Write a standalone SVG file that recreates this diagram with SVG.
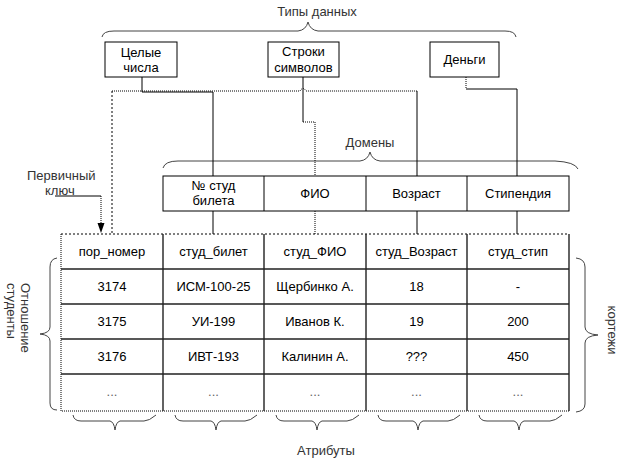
<svg xmlns="http://www.w3.org/2000/svg" width="624" height="463" viewBox="0 0 624 463">
<style>
text{font-family:"Liberation Sans",Arial,sans-serif;font-size:13px;fill:#000}
.c{text-anchor:middle}
.lbl{fill:#333}
.ell{fill:#666}
.box{fill:#fff;stroke:#000;stroke-width:1}
.ln{fill:none;stroke:#000;stroke-width:1}
.dt{fill:none;stroke:#000;stroke-width:1;stroke-dasharray:1 1}
.ds{fill:none;stroke:#000;stroke-width:1;stroke-dasharray:2 2}
.br{fill:none;stroke:#444;stroke-width:1}
.grid{fill:none;stroke:#222;stroke-width:1.4}
</style>
<rect width="624" height="463" fill="#fff"/>

<g id="braces">
<path class="br" d="M102,37 Q103,31 114,31 L298,31 Q306,30 308,22 Q310,30 318,31 L505,31 Q515,31 516,37"/>
<path class="br" d="M163,168 Q165,161 178,161 L360,161 Q368,160 370,152 Q372,160 380,161 L555,161 Q575,162 578,169"/>
<path class="br" d="M57,258 Q50,259 50,267 L50,327 Q50,333 40,334 Q50,335 50,341 L50,403 Q50,410 57,410"/>
<path class="br" d="M576,258 Q585,259 585,267 L585,327 Q585,334 598,335 Q585,336 585,343 L585,404 Q585,411 576,412"/>
<path class="br" d="M73,415 Q74,421 81,421 L110,421 Q114,422 115,430 Q116,422 120,421 L144,421 Q149,421 156,415"/>
<path class="br" d="M175,415 Q176,421 183,421 L211,421 Q215,422 216,430 Q217,422 221,421 L245,421 Q250,421 257,415"/>
<path class="br" d="M276,415 Q277,421 284,421 L312,421 Q316,422 317,430 Q318,422 322,421 L347,421 Q352,421 359,415"/>
<path class="br" d="M378,415 Q379,421 386,421 L413,421 Q417,422 418,430 Q419,422 423,421 L448,421 Q453,421 460,415"/>
<path class="br" d="M479,415 Q480,421 487,421 L514,421 Q518,422 519,430 Q520,422 524,421 L550,421 Q555,421 562,415"/>
</g>

<g id="labels">
<text class="c lbl" x="317" y="16">Типы данных</text>
<text class="c lbl" x="370" y="147">Домены</text>
<text class="lbl" x="27" y="180">Первичный</text>
<text class="lbl" x="45" y="195">ключ</text>
<text class="c lbl" x="326" y="455">Атрибуты</text>
<text class="lbl" transform="translate(21,283) rotate(90)">Отношение</text>
<text class="lbl" transform="translate(7,283) rotate(90)">студенты</text>
<text class="c lbl" transform="translate(608,330) rotate(90)">кортежи</text>
</g>

<g id="connectors">
<path class="ln" d="M142,77 V92 H213 V176"/>
<path class="ds" d="M112,233 V91"/>
<path class="dt" d="M112,91 H300 Q303,86 306,91 H417"/>
<path class="ln" d="M417,91 V176"/>
<path class="ln" d="M303,77 V122"/>
<path class="dt" d="M303,122 H315 V176"/>
<path class="dt" d="M466,77 V89"/>
<path class="ln" d="M466,89 H517 V176"/>
<path class="ln" d="M213,211 V234"/>
<path class="dt" d="M315,211 V234"/>
<path class="ln" d="M417,211 V234"/>
<path class="ln" d="M517,211 V234"/>
<path class="ln" d="M55,196 H101"/>
<path class="dt" d="M101,196 V224"/>
<polygon points="97.5,223 104.5,223 101,233" fill="#000"/>
</g>

<g id="type-int">
<rect class="box" x="105" y="42" width="72" height="35"/>
<text class="c" x="141" y="57">Целые</text>
<text class="c" x="141" y="72">числа</text>
</g>
<g id="type-str">
<rect class="box" x="268" y="42" width="71" height="35"/>
<text class="c" x="303.5" y="56">Строки</text>
<text class="c" x="303.5" y="72">символов</text>
</g>
<g id="type-money">
<rect class="box" x="430" y="42" width="69" height="35"/>
<text class="c" x="464.5" y="64">Деньги</text>
</g>

<g id="domains">
<rect class="box" x="163" y="176" width="406" height="35"/>
<path class="ln" d="M264,176 V211 M366,176 V211 M467,176 V211"/>
<text class="c" x="213.5" y="190">№ студ</text>
<text class="c" x="213.5" y="205">билета</text>
<text class="c" x="315" y="198">ФИО</text>
<text class="c" x="416.5" y="198">Возраст</text>
<text class="c" x="518" y="198">Стипендия</text>
</g>

<g id="relation">
<path class="ds" d="M61,234 H569"/>
<path class="dt" d="M61,234 V411 H569"/>
<path class="grid" d="M569,234 V411"/>
<path class="grid" d="M61,269 H569 M61,304 H569 M61,339 H569 M61,374 H569"/>
<path class="grid" d="M163,234 V411 M264,234 V411 M366,234 V411 M467,234 V411"/>
<text class="c" x="112" y="256">пор_номер</text>
<text class="c" x="213.5" y="256">студ_билет</text>
<text class="c" x="315" y="256">студ_ФИО</text>
<text class="c" x="416.5" y="256">студ_Возраст</text>
<text class="c" x="518" y="256">студ_стип</text>
<text class="c" x="112" y="291">3174</text>
<text class="c" x="213.5" y="291">ИСМ-100-25</text>
<text class="c" x="315" y="291">Щербинко А.</text>
<text class="c" x="416.5" y="291">18</text>
<text class="c" x="518" y="291">-</text>
<text class="c" x="112" y="326">3175</text>
<text class="c" x="213.5" y="326">УИ-199</text>
<text class="c" x="315" y="326">Иванов К.</text>
<text class="c" x="416.5" y="326">19</text>
<text class="c" x="518" y="326">200</text>
<text class="c" x="112" y="361">3176</text>
<text class="c" x="213.5" y="361">ИВТ-193</text>
<text class="c" x="315" y="361">Калинин А.</text>
<text class="c" x="416.5" y="361">???</text>
<text class="c" x="518" y="361">450</text>
<text class="c ell" x="112" y="396">...</text>
<text class="c ell" x="213.5" y="396">...</text>
<text class="c ell" x="315" y="396">...</text>
<text class="c ell" x="416.5" y="396">...</text>
<text class="c ell" x="518" y="396">...</text>
</g>
</svg>
